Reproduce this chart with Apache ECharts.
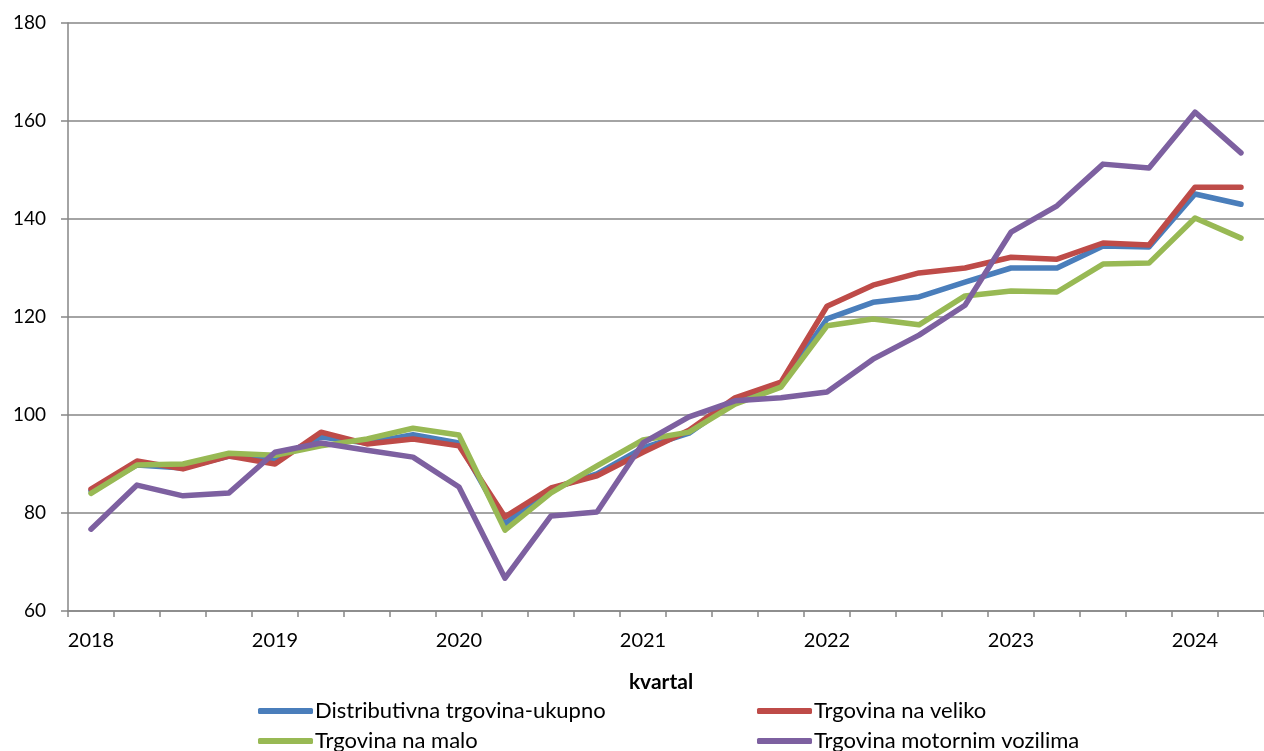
<!DOCTYPE html>
<html>
<head>
<meta charset="utf-8">
<script src="https://cdn.jsdelivr.net/npm/echarts@6/dist/echarts.min.js"></script>
<style>
html, body { margin: 0; padding: 0; background: #fff; }
#chartDiv { width: 1264px; height: 751px; }
</style>
</head>
<body>
<div id="chartDiv"></div>
<script>
const quarters = [
	'2018', '2018Q2', '2018Q3', '2018Q4',
	'2019', '2019Q2', '2019Q3', '2019Q4',
	'2020', '2020Q2', '2020Q3', '2020Q4',
	'2021', '2021Q2', '2021Q3', '2021Q4',
	'2022', '2022Q2', '2022Q3', '2022Q4',
	'2023', '2023Q2', '2023Q3', '2023Q4',
	'2024', '2024Q2'
];
const seriesNames = ['Distributivna trgovina-ukupno', 'Trgovina na veliko', 'Trgovina na malo', 'Trgovina motornim vozilima'];
const ukupno = [84.5, 89.8, 89.2, 91.6, 91.0, 95.5, 94.3, 96.0, 94.3, 77.8, 84.9, 88.0, 93.3, 96.3, 102.9, 106.1, 119.6, 123.0, 124.1, 127.1, 130.0, 130.0, 134.5, 134.3, 145.1, 143.0];
const veliko = [84.9, 90.6, 89.0, 91.6, 90.0, 96.5, 94.1, 95.1, 93.7, 79.2, 85.1, 87.6, 92.4, 96.9, 103.5, 106.7, 122.2, 126.5, 129.0, 130.0, 132.2, 131.8, 135.1, 134.7, 146.5, 146.5];
const malo = [84.0, 89.8, 90.0, 92.2, 91.8, 93.7, 95.1, 97.3, 95.9, 76.5, 84.1, 89.6, 94.9, 96.5, 102.2, 105.7, 118.2, 119.6, 118.4, 124.3, 125.3, 125.1, 130.8, 131.0, 140.2, 136.1];
const vozila = [76.7, 85.7, 83.5, 84.1, 92.4, 94.3, 92.8, 91.4, 85.3, 66.7, 79.4, 80.2, 94.3, 99.6, 102.9, 103.5, 104.7, 111.4, 116.3, 122.4, 137.3, 142.7, 151.2, 150.4, 161.8, 153.5];
const colors = ['#4a7ebb', '#be4b48', '#98b954', '#7d60a0'];

let chart = echarts.init(document.getElementById('chartDiv'));
const font = 'Lato, "Noto Sans", sans-serif';
const lineSeries = (name, data, color) => ({
	name: name,
	type: 'line',
	data: data,
	symbol: 'none',
	lineStyle: { color: color, width: 5.5, cap: 'round', join: 'round' },
	itemStyle: { color: color },
	animation: false
});
// one legend per item, laid out in two columns like the original
const legendItem = (name, left, top) => ({
	left: left,
	top: top,
	itemWidth: 55,
	itemHeight: 6,
	itemGap: 0,
	icon: 'roundRect',
	textStyle: { fontFamily: font, fontSize: 22, color: '#000', padding: [0, 0, 0, -3] },
	data: [name]
});
let option = {
	textStyle: { fontFamily: font },
	grid: {
		left: 68,
		right: -10,
		top: 23,
		bottom: 140
	},
	title: {
		text: 'kvartal',
		left: 656,
		top: 667,
		textAlign: 'center',
		textStyle: { fontFamily: font, fontWeight: 'bold', fontSize: 21, color: '#000' }
	},
	legend: [
		legendItem(seriesNames[0], 253, 695),
		legendItem(seriesNames[2], 253, 725),
		legendItem(seriesNames[1], 752, 695),
		legendItem(seriesNames[3], 752, 725)
	],
	xAxis: {
		type: 'category',
		boundaryGap: true,
		data: quarters,
		axisLine: { lineStyle: { color: '#868686', width: 1.5 } },
		axisTick: { show: true, interval: 0, length: 6, lineStyle: { color: '#868686', width: 1.5 } },
		axisLabel: {
			interval: 3,
			margin: 20,
			fontSize: 20,
			color: '#000',
			fontFamily: font,
			formatter: v => v.slice(0, 4)
		}
	},
	yAxis: {
		type: 'value',
		min: 60,
		max: 180,
		interval: 20,
		axisLine: { show: true, lineStyle: { color: '#868686', width: 1.5 } },
		axisTick: { show: true, length: 7, lineStyle: { color: '#868686', width: 1.5 } },
		splitLine: { lineStyle: { color: '#868686', width: 1.5 } },
		axisLabel: { margin: 22, fontSize: 19, color: '#000', fontFamily: font }
	},
	series: [
		lineSeries(seriesNames[0], ukupno, colors[0]),
		lineSeries(seriesNames[1], veliko, colors[1]),
		lineSeries(seriesNames[2], malo, colors[2]),
		lineSeries(seriesNames[3], vozila, colors[3])
	]
};
chart.setOption(option);
</script>
</body>
</html>
